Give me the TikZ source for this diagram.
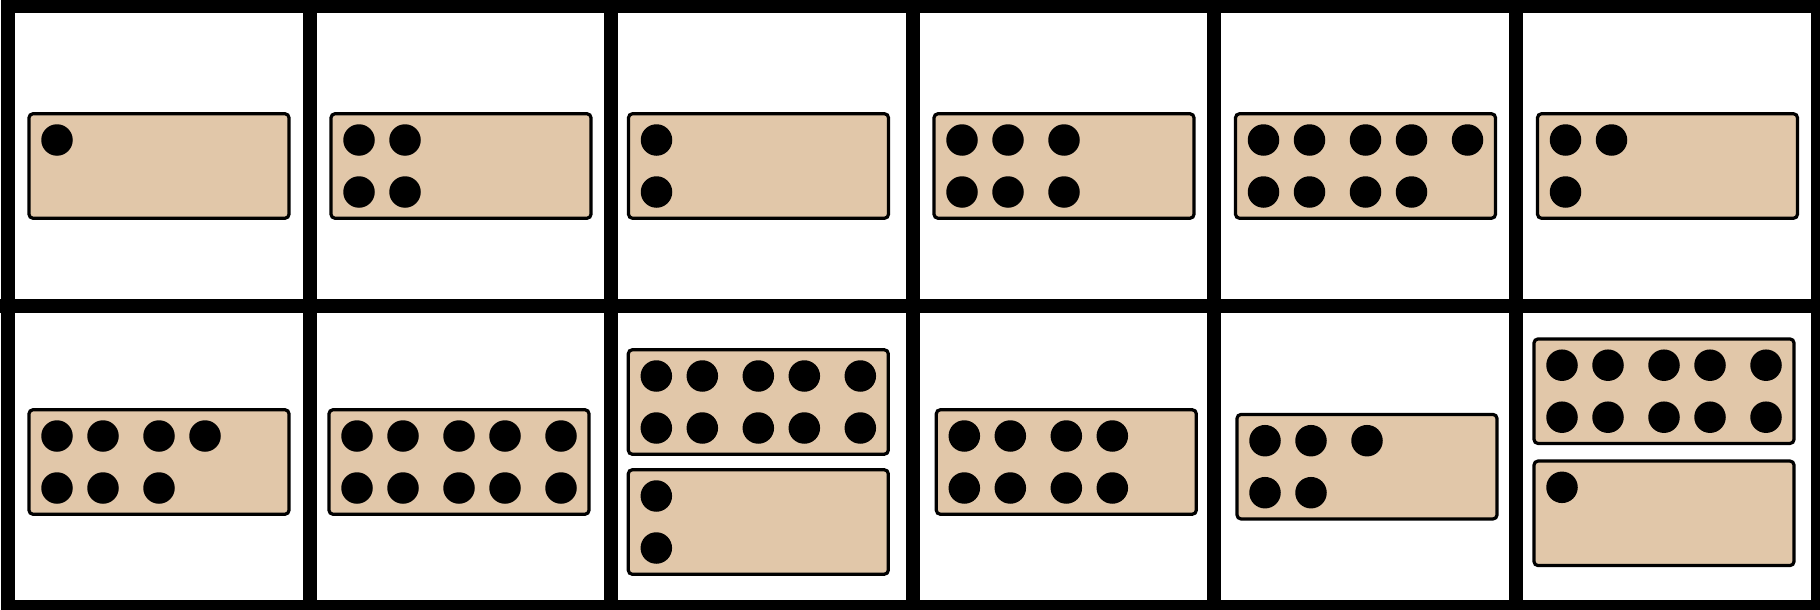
\documentclass[tikz,border=0pt]{standalone}
\begin{document}
\definecolor{cardfill}{RGB}{225,199,169}
\tikzset{
  card/.style={draw=black, line width=3.2pt, fill=cardfill, rounded corners=4pt,
    rectangle, minimum width=260pt, minimum height=104.5pt, inner sep=0pt},
  dot/.style={circle, fill=black, minimum size=31.5pt, inner sep=0pt},
  gridline/.style={line width=14pt, draw=black}
}
\newcommand\tencard[5]{%
  \node[card] (#1) at (#2,#3) {};
  \foreach \dx [count=\k] in {-102,-56,0,46,102} {%
    \ifnum\k>#4\relax\else\node[dot] (#1t\k) at ($(#1.center)+(\dx,-26)$) {};\fi
    \ifnum\k>#5\relax\else\node[dot] (#1b\k) at ($(#1.center)+(\dx,26)$) {};\fi
  }%
}
\begin{tikzpicture}[x=1pt,y=-1pt]
\usetikzlibrary{calc}
\useasboundingbox (0,0) rectangle (1820,610);
\fill[white] (0,0) rectangle (1820,610);
% grid
\draw[gridline] (7.8,5.8) rectangle (1817.5,607);
\foreach \gx in {309.5,611,913,1214,1516} {\draw[gridline] (\gx,0) -- (\gx,610);}
\draw[gridline] (0,306.3) -- (1820,306.3);
% row 1
\tencard{a1}{159}{166}{1}{0}
\tencard{a2}{461}{166}{2}{2}
\tencard{a3}{758.5}{166}{1}{1}
\tencard{a4}{1064}{166}{3}{3}
\tencard{a5}{1365.5}{166}{5}{4}
\tencard{a6}{1667.5}{166}{2}{1}
% row 2
\tencard{b1}{159}{462}{4}{3}
\tencard{b2}{459}{462}{5}{5}
\tencard{b3u}{758.3}{402}{5}{5}
\tencard{b3l}{758.3}{522}{1}{1}
\tencard{b4}{1066.3}{462}{4}{4}
\tencard{b5}{1367}{466.7}{3}{2}
\tencard{b6u}{1664}{391.2}{5}{5}
\tencard{b6l}{1664}{513.3}{1}{0}
\end{tikzpicture}
\end{document}
